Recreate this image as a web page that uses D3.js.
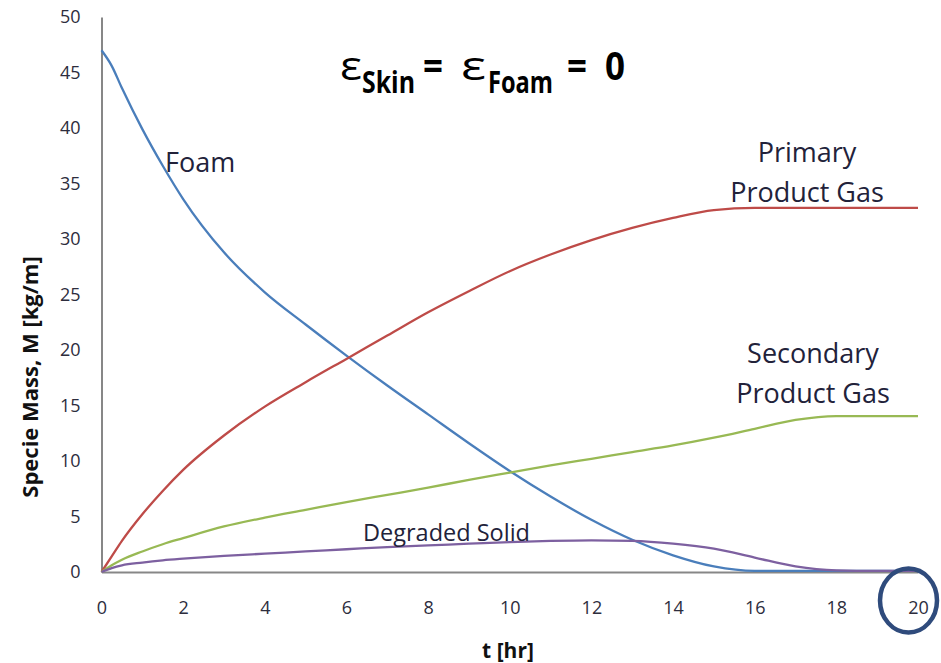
<!DOCTYPE html>
<html>
<head>
<meta charset="utf-8">
<script src="https://cdn.jsdelivr.net/npm/d3@7"></script>
<style>
  html, body { margin: 0; padding: 0; background: #ffffff; }
  svg { display: block; }
  text { font-family: "Open Sans", "Noto Sans", sans-serif; }
</style>
</head>
<body>
<svg id="chart" width="941" height="663"></svg>
<script>
// Time grid [hr]
const timeHr = [0, 0.25, 0.5, 1, 1.5, 2, 3, 4, 5, 6, 7, 8, 9, 10, 11, 12, 13, 14, 15, 16, 17, 18, 19, 20];

// Specie mass per unit length [kg/m]
const foam =          [47.0, 45.6, 43.6, 39.9, 36.6, 33.6, 28.8, 25.2, 22.3, 19.5, 16.8, 14.2, 11.6, 9.1, 6.8, 4.7, 2.9, 1.5, 0.5, 0.1, 0.1, 0.1, 0.1, 0.1];
const primaryGas =    [0, 1.4, 2.8, 5.2, 7.3, 9.2, 12.3, 14.9, 17.1, 19.2, 21.3, 23.4, 25.3, 27.1, 28.6, 29.9, 31.0, 31.9, 32.6, 32.8, 32.8, 32.8, 32.8, 32.8];
const secondaryGas =  [0, 0.6, 1.1, 1.85, 2.5, 3.05, 4.1, 4.9, 5.6, 6.3, 6.95, 7.6, 8.3, 8.95, 9.6, 10.2, 10.8, 11.4, 12.1, 12.9, 13.7, 14.05, 14.05, 14.05];
const degradedSolid = [0, 0.35, 0.6, 0.85, 1.05, 1.2, 1.45, 1.65, 1.85, 2.05, 2.25, 2.4, 2.55, 2.7, 2.8, 2.85, 2.8, 2.55, 2.1, 1.3, 0.5, 0.15, 0.1, 0.1];

// Axis ticks
const xTicks = [0, 2, 4, 6, 8, 10, 12, 14, 16, 18, 20];
const yTicks = [0, 5, 10, 15, 20, 25, 30, 35, 40, 45, 50];

const series = [
  { name: "Foam", values: foam, color: "#4a7ebb" },
  { name: "Primary Product Gas", values: primaryGas, color: "#be4b48" },
  { name: "Secondary Product Gas", values: secondaryGas, color: "#98b954" },
  { name: "Degraded Solid", values: degradedSolid, color: "#7d60a0" }
];

const svg = d3.select("#chart");

const x = d3.scaleLinear().domain([0, 20]).range([101.5, 918]);
const y = d3.scaleLinear().domain([0, 50]).range([572, 17]);

// Axes: plain grey spines, no tick marks
const xAxis = svg.append("g")
  .attr("transform", "translate(0,572)")
  .call(d3.axisBottom(x).tickValues(xTicks).tickSize(0).tickSizeOuter(0).tickFormat(d3.format("d")));
xAxis.select(".domain").attr("stroke", "#878787").attr("stroke-width", 2);
xAxis.selectAll("text")
  .attr("y", 42).attr("dy", 0)
  .attr("fill", "#2d2d3d")
  .style("font-size", "18px");

const yAxis = svg.append("g")
  .attr("transform", "translate(101.5,0)")
  .call(d3.axisLeft(y).tickValues(yTicks).tickSize(0).tickSizeOuter(0).tickPadding(21).tickFormat(d3.format("d")));
yAxis.select(".domain").attr("stroke", "#878787").attr("stroke-width", 2);
yAxis.selectAll("text")
  .attr("fill", "#2d2d3d")
  .style("font-size", "18px");

// Curves
const line = d3.line()
  .x((d, i) => x(timeHr[i]))
  .y(d => y(d))
  .curve(d3.curveMonotoneX);

svg.append("g").selectAll("path")
  .data(series)
  .join("path")
  .attr("d", d => line(d.values))
  .attr("fill", "none")
  .attr("stroke", d => d.color)
  .attr("stroke-width", 2.3)
  .attr("stroke-linejoin", "round");

// Axis titles
svg.append("text")
  .attr("transform", "translate(38,377) rotate(-90)")
  .attr("text-anchor", "middle")
  .style("font-size", "22px")
  .style("font-weight", "bold")
  .attr("fill", "#111")
  .text("Specie Mass, M [kg/m]");

svg.append("text")
  .attr("x", 508).attr("y", 658)
  .attr("text-anchor", "middle")
  .style("font-size", "21px")
  .style("font-weight", "bold")
  .attr("fill", "#111")
  .text("t [hr]");

// Curve labels
const labels = [
  { lines: ["Foam"], x: 165, y: 172, anchor: "start", size: 27 },
  { lines: ["Primary", "Product Gas"], x: 807, y: 162, anchor: "middle", size: 27 },
  { lines: ["Secondary", "Product Gas"], x: 813, y: 363, anchor: "middle", size: 27 },
  { lines: ["Degraded Solid"], x: 363, y: 541, anchor: "start", size: 23.5 }
];
labels.forEach(l => {
  const t = svg.append("text")
    .attr("x", l.x).attr("y", l.y)
    .attr("text-anchor", l.anchor)
    .style("font-size", l.size + "px")
    .attr("fill", "#22223a");
  l.lines.forEach((s, i) => {
    t.append("tspan").attr("x", l.x).attr("dy", i === 0 ? 0 : 40).text(s);
  });
});

// Heading: emissivities of skin and foam
const heading = [
  { s: "ε", x: 340, y: 80, size: 40, w: 22, wt: "normal" },
  { s: "Skin", x: 362, y: 93, size: 30, w: 53, wt: "bold" },
  { s: "=", x: 423, y: 80, size: 40, w: 20, wt: "bold" },
  { s: "ε", x: 461, y: 80, size: 40, w: 25, wt: "normal" },
  { s: "Foam", x: 488, y: 93, size: 30, w: 65, wt: "bold" },
  { s: "=", x: 567, y: 80, size: 40, w: 20, wt: "bold" },
  { s: "0", x: 605, y: 80, size: 40, w: 20, wt: "bold" }
];
svg.append("g").selectAll("text")
  .data(heading)
  .join("text")
  .attr("x", d => d.x).attr("y", d => d.y)
  .attr("textLength", d => d.w)
  .attr("lengthAdjust", "spacingAndGlyphs")
  .style("font-size", d => d.size + "px")
  .style("font-weight", d => d.wt)
  .attr("fill", "#000")
  .text(d => d.s);

// Highlight ring around the final time tick
svg.append("ellipse")
  .attr("cx", x(20) - 9.5).attr("cy", 600.5)
  .attr("rx", 28.5).attr("ry", 32)
  .attr("fill", "none")
  .attr("stroke", "#2f4b7c")
  .attr("stroke-width", 4.5);
</script>
</body>
</html>
